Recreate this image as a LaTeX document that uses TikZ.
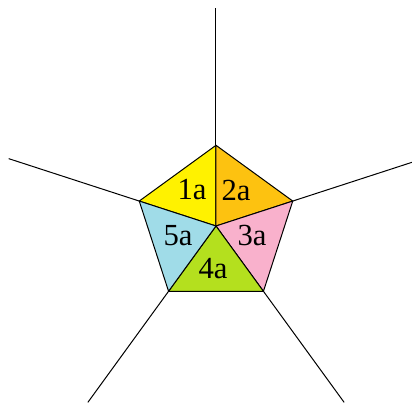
\documentclass[tikz,border=0pt]{standalone}
\usepackage{fontspec}
\setmainfont{Liberation Serif}
\usepackage{tikz}
\usepackage{xcolor}
\definecolor{secyellow}{HTML}{FFF200}
\definecolor{secorange}{HTML}{FDC210}
\definecolor{secpink}{HTML}{F9B1CC}
\definecolor{secgreen}{HTML}{B4E01E}
\definecolor{secblue}{HTML}{A0DCE8}

\begin{document}
\begin{tikzpicture}[x=0.75pt,y=0.75pt,
      every node/.style={font=\fontsize{23}{25}\selectfont,inner sep=0pt},
      edge/.style={draw=black,line width=0.75pt},
      sector/.style={edge,line join=round}]
    \useasboundingbox (-216,-181) rectangle (196,226);
    \clip (-216,-181) rectangle (196,226);
    \coordinate (c) at (0,0);
    \foreach \i/\a in {1/90,2/18,3/306,4/234,5/162} {
      \coordinate (p\i) at (\a:80.7);
      \coordinate (r\i) at (\a:218);
    }
    \foreach \u/\v/\col in {1/5/secyellow,1/2/secorange,2/3/secpink,
                            3/4/secgreen,4/5/secblue}
      \filldraw[sector,fill=\col] (c) -- (p\u) -- (p\v) -- cycle;
    \foreach \i in {1,...,5}
      \draw[edge] (p\i) -- (r\i);
    \node (l1) at (-24,36) {1a};
    \node (l2) at (20,36) {2a};
    \node (l3) at (36,-10) {3a};
    \node (l4) at (-3,-43) {4a};
    \node (l5) at (-38,-10) {5a};
  \end{tikzpicture}
\end{document}
